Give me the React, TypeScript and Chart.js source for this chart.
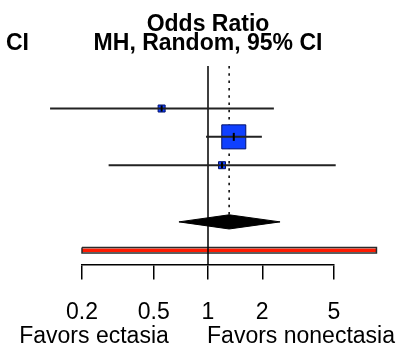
import React, { useEffect, useRef } from "react";
import { Chart, registerables } from "chart.js";

Chart.register(...registerables);

// ---- data ----
const studyRows = [1, 2, 3];
const studyOR = [0.553, 1.39, 1.196];
const studyLower = [0.133, 0.975, 0.281];
const studyUpper = [2.32, 1.99, 5.11];
const studyWeight = [7.3, 85.4, 7.3];

const pooledRow = 5;
const pooledOR = 1.31;
const pooledLower = 0.69;
const pooledUpper = 2.51;

const predictionRow = 6;
const predictionLower = 0.2;
const predictionUpper = 8.6;

const xTicks = [0.2, 0.5, 1, 2, 5];
const xMin = 0.2;
const xMax = 5;
const yMin = -0.5;
const yMax = 6.5;

const headerTitle = "Odds Ratio";
const headerSub = "MH, Random, 95% CI";
const headerLeft = "CI";
const favorsLeft = "Favors ectasia";
const favorsRight = "Favors nonectasia";

const FAMILY = '"Liberation Sans", Arial, Helvetica, sans-serif';

export default function App() {
  const ref = useRef<HTMLCanvasElement | null>(null);

  useEffect(() => {
    if (!ref.current) return;

    const textPlugin = {
      id: "forestText",
      afterDraw(chart: any) {
        const ctx = chart.ctx;
        const xs = chart.scales.x;
        const c = xs.getPixelForValue(1);
        ctx.save();
        ctx.fillStyle = "#000";
        ctx.textBaseline = "alphabetic";
        ctx.font = `bold 23px ${FAMILY}`;
        ctx.textAlign = "center";
        ctx.fillText(headerTitle, c, 31);
        ctx.fillText(headerSub, c, 49.5);
        ctx.textAlign = "left";
        ctx.fillText(headerLeft, 6, 49.5);
        ctx.font = `23px ${FAMILY}`;
        ctx.textAlign = "center";
        ctx.fillText(favorsLeft, 94, 343);
        ctx.fillText(favorsRight, 301, 343);
        ctx.restore();
      },
    };

    const h = 0.25;
    const bh = 0.1;

    const datasets: any[] = [
      // vertical marks at point estimates (top)
      {
        data: studyOR.map((v, i) => ({ x: v, y: studyRows[i] })),
        pointStyle: "line",
        rotation: 90,
        radius: studyWeight.map((w) => (w > 50 ? 4 : 3)),
        borderColor: "#000",
        borderWidth: 2,
        showLine: false,
        clip: false,
      },
      // CI lines
      ...studyRows.map((r, i) => ({
        data: [
          { x: studyLower[i], y: r },
          { x: studyUpper[i], y: r },
        ],
        showLine: true,
        borderColor: "#222",
        borderWidth: 2,
        pointRadius: 0,
        clip: false,
      })),
      // squares
      {
        data: studyOR.map((v, i) => ({ x: v, y: studyRows[i] })),
        pointStyle: "rect",
        radius: studyWeight.map((w) => (26 * Math.sqrt(w / 100)) / Math.SQRT2),
        backgroundColor: "#1040ff",
        borderColor: "#00106a",
        borderWidth: 1,
        showLine: false,
        clip: false,
      },
      // pooled diamond
      {
        data: [
          { x: pooledLower, y: pooledRow },
          { x: pooledOR, y: pooledRow - h },
          { x: pooledUpper, y: pooledRow },
          { x: pooledOR, y: pooledRow + h },
          { x: pooledLower, y: pooledRow },
        ],
        showLine: true,
        fill: "shape",
        backgroundColor: "#000",
        borderColor: "#000",
        borderWidth: 1,
        pointRadius: 0,
        clip: false,
      },
      // null line
      {
        data: [
          { x: 1, y: yMin },
          { x: 1, y: yMax },
        ],
        showLine: true,
        borderColor: "#000",
        borderWidth: 1.5,
        pointRadius: 0,
        clip: false,
      },
      // prediction bar outline
      {
        data: [
          { x: predictionLower, y: predictionRow - bh },
          { x: predictionUpper, y: predictionRow - bh },
          { x: predictionUpper, y: predictionRow + bh },
          { x: predictionLower, y: predictionRow + bh },
          { x: predictionLower, y: predictionRow - bh },
        ],
        showLine: true,
        fill: false,
        borderColor: "#2a2a2a",
        borderWidth: 1.5,
        pointRadius: 0,
        clip: false,
      },
      // prediction bar fill
      {
        data: [
          { x: predictionLower, y: predictionRow },
          { x: predictionUpper, y: predictionRow },
        ],
        showLine: true,
        borderColor: "#ff1a00",
        borderWidth: 3.6,
        borderCapStyle: "butt",
        pointRadius: 0,
        clip: false,
      },
      // dotted pooled line
      {
        data: [
          { x: pooledOR, y: yMin },
          { x: pooledOR, y: pooledRow - h },
        ],
        showLine: true,
        borderColor: "#000",
        borderWidth: 1.5,
        borderDash: [2.5, 4.8],
        pointRadius: 0,
        clip: false,
      },
    ];

    const chart = new Chart(ref.current, {
      type: "scatter",
      data: { datasets },
      options: {
        animation: false,
        responsive: false,
        maintainAspectRatio: false,
        layout: { padding: { left: 82, right: 79, top: 66, bottom: 2 } },
        plugins: { legend: { display: false }, tooltip: { enabled: false } },
        scales: {
          x: {
            type: "logarithmic",
            min: xMin,
            max: xMax,
            position: "bottom",
            afterBuildTicks: (s: any) => {
              s.ticks = xTicks.map((v) => ({ value: v }));
            },
            ticks: {
              callback: (v: any) => String(v),
              autoSkip: false,
              maxRotation: 0,
              minRotation: 0,
              color: "#000",
              padding: 19,
              font: { size: 23, family: FAMILY },
            },
            grid: {
              display: true,
              drawOnChartArea: false,
              drawTicks: true,
              tickLength: 15,
              color: "#000",
              lineWidth: 1.5,
            },
            border: { display: true, color: "#000", width: 1.5 },
          },
          y: {
            type: "linear",
            min: yMin,
            max: yMax,
            reverse: true,
            display: false,
          },
        },
      },
      plugins: [textPlugin],
    } as any);

    return () => chart.destroy();
  }, []);

  return (
    <div style={{ position: "absolute", left: 0, top: 0, width: 413, height: 347, background: "#fff" }}>
      <canvas ref={ref} width={413} height={347} />
    </div>
  );
}
